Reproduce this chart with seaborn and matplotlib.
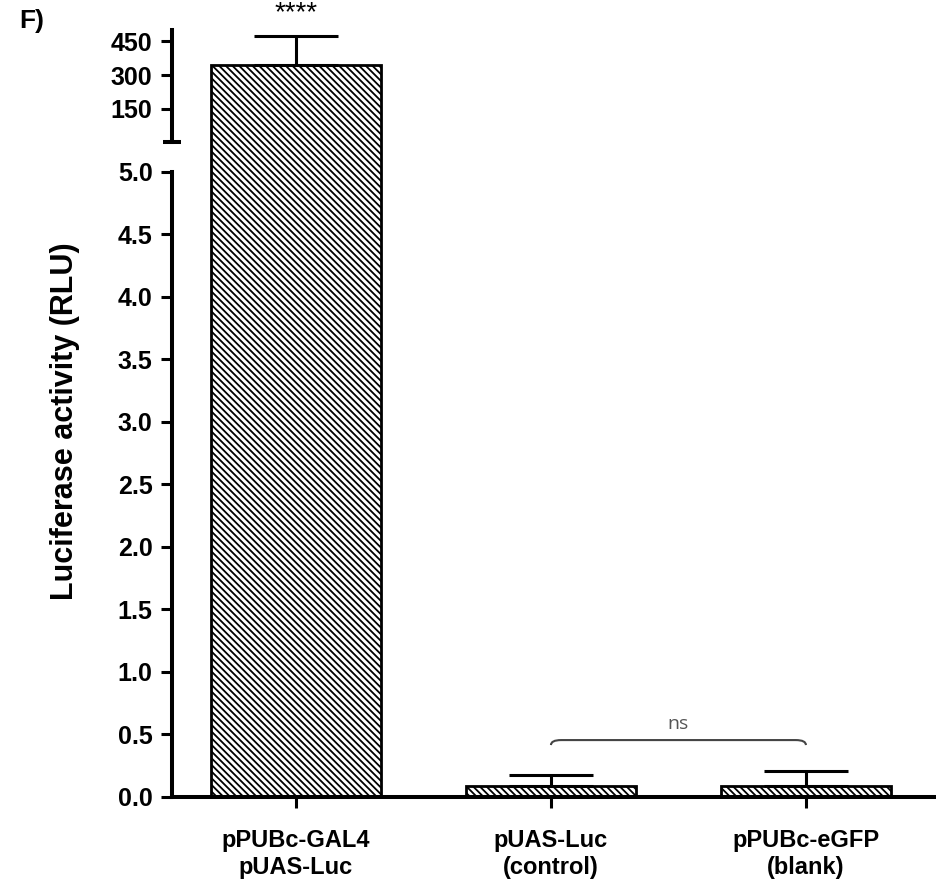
import numpy as np
import pandas as pd
import matplotlib
matplotlib.use("Agg")
import matplotlib.pyplot as plt
from matplotlib.path import Path
from matplotlib.patches import PathPatch
import seaborn as sns

labels = ["pPUBc-GAL4\npUAS-Luc", "pUAS-Luc\n(control)", "pPUBc-eGFP\n(blank)"]
means = [346, 0.085, 0.085]
errs = [126, 0.09, 0.12]
low_ticks = [0.0, 0.5, 1.0, 1.5, 2.0, 2.5, 3.0, 3.5, 4.0, 4.5, 5.0]
high_ticks = [150, 300, 450]
break_lo = 5.0
break_hi = 0

sns.set_theme(style="ticks")
plt.rcParams["font.family"] = ["Liberation Sans", "DejaVu Sans"]
plt.rcParams["hatch.linewidth"] = 1.3
plt.rcParams["hatch.color"] = "black"
for k in ["text.color", "axes.edgecolor", "xtick.color", "ytick.color", "axes.labelcolor"]:
    plt.rcParams[k] = "black"

df = pd.DataFrame({"group": labels, "mean": means, "err": errs})
big = df[df["mean"] > break_lo]

fig = plt.figure(figsize=(9.37, 8.86), dpi=100)
ax = fig.add_axes([0.1836, 0.1005, 0.8164, 0.7055])
ax_top = fig.add_axes([0.1836, 0.806, 0.8164, 0.160])

def draw(a, d):
    sns.barplot(data=d, x="group", y="mean", order=labels, color="white",
                edgecolor="black", linewidth=2.0, width=0.67, hatch="\\\\\\\\\\", ax=a)
    a.errorbar(d["group"].map(labels.index), d["mean"],
               yerr=[np.zeros(len(d)), d["err"]], fmt="none", ecolor="black",
               elinewidth=2.2, capsize=30, capthick=2.2)
    a.set_xlim(-0.486, 2.514)

draw(ax, df)
draw(ax_top, big)

# lower panel
ax.set_ylim(0, 5)
ax.set_yticks(low_ticks)
ax.set_yticklabels([f"{t:.1f}" for t in low_ticks])
ax.set_yticks([break_lo], minor=True)
ax.tick_params(axis="y", which="minor", direction="inout", length=13, width=2.9)
ax.set_xlabel("")
ax.set_ylabel("")
sns.despine(ax=ax)
for s in ["left", "bottom"]:
    ax.spines[s].set_linewidth(2.9)
ax.tick_params(axis="both", which="major", direction="out", length=8, width=2.2)
ax.tick_params(axis="y", labelsize=18, pad=6)
ax.tick_params(axis="x", labelsize=17, pad=15)
for t in ax.get_yticklabels() + ax.get_xticklabels():
    t.set_fontweight("bold")

# upper panel
ylo = -131
ax_top.set_ylim(ylo, 500)
for p in ax_top.patches:
    top = p.get_y() + p.get_height()
    p.set_y(ylo - 100)
    p.set_height(top - (ylo - 100))
ax_top.set_yticks(high_ticks)
ax_top.set_yticks([break_hi], minor=True)
ax_top.tick_params(axis="y", which="minor", direction="inout", length=13, width=2.9)
ax_top.tick_params(axis="y", which="major", direction="out", length=8, width=2.2,
                   labelsize=18, pad=6)
ax_top.set_xticks([])
ax_top.set_xlabel("")
ax_top.set_ylabel("")
sns.despine(ax=ax_top, bottom=True)
ax_top.spines["left"].set_linewidth(2.9)
ax_top.spines["left"].set_bounds(break_hi, 500)
for t in ax_top.get_yticklabels():
    t.set_fontweight("bold")
ax_top.patch.set_visible(False)

ax_top.annotate("****", xy=(0, 1), xycoords=("data", "axes fraction"),
                xytext=(0, 3), textcoords="offset points", ha="center",
                va="bottom", fontsize=20)

# ns bracket
x1, x2, yb, yt = 1.0, 2.0, 0.415, 0.455
verts = [(x1, yb), (x1, yt), (x1 + 0.04, yt), (x2 - 0.04, yt), (x2, yt), (x2, yb)]
codes = [Path.MOVETO, Path.CURVE3, Path.CURVE3, Path.LINETO, Path.CURVE3, Path.CURVE3]
ax.add_patch(PathPatch(Path(verts, codes), fill=False, edgecolor="#444444", lw=1.5))
ax.text((x1 + x2) / 2, 0.58, "ns", ha="center", va="center", fontsize=14,
        color="#555555", family=["Open Sans", "DejaVu Sans"])

fig.text(0.069, 0.525, "Luciferase activity (RLU)", rotation=90, ha="center",
         va="center", fontsize=22, fontweight="bold")
fig.text(0.021, 0.99, "F)", ha="left", va="top", fontsize=19, fontweight="bold")

fig.savefig("out.png", dpi=100)
